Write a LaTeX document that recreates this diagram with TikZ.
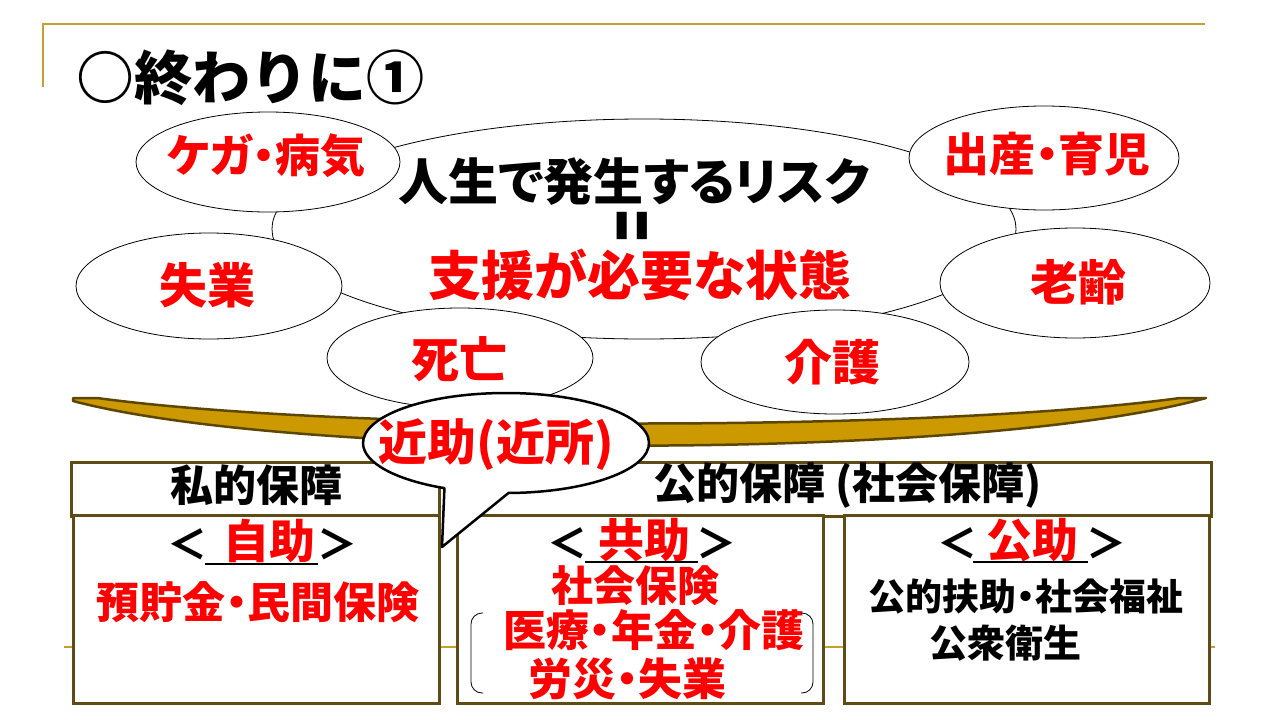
\documentclass[tikz,border=0pt]{standalone}
\usepackage{fontspec}
\setmainfont{Noto Sans CJK JP Black}[RawFeature=+palt]
\newfontfamily\titlefont{Noto Sans CJK JP Black}
\usetikzlibrary{shapes.geometric}
\definecolor{slidegold}{RGB}{196,160,52}
\definecolor{bowlfill}{RGB}{204,153,0}
\definecolor{bowledge}{RGB}{92,70,0}
\definecolor{boxedge}{RGB}{94,76,20}
\definecolor{jred}{RGB}{255,0,0}
\newcommand{\fs}[1]{\fontsize{#1}{#1}\selectfont}
\begin{document}
\begin{tikzpicture}[x=1pt,y=-1pt,
  risk/.style={ellipse, draw=black, line width=0.8pt, fill=white, inner sep=0pt},
  txt/.style={inner sep=0pt, text=black},
  rtxt/.style={inner sep=0pt, text=jred},
  panel/.style={draw=boxedge, line width=3pt, fill=white, inner sep=0pt, anchor=north west},
  uline/.style={draw=black, line width=2pt},
  bracketline/.style={draw=black, line width=0.8pt, rounded corners=11pt}]
\useasboundingbox (0,0) rectangle (1280,720);
% slide decoration
\coordinate (tl) at (43,24);
\coordinate (tr) at (1205,24);
\coordinate (tv) at (43,87);
\draw[slidegold, line width=2.5pt] (tv) -- (tl) -- (tr);
\coordinate (bl) at (64,647);
\coordinate (br) at (1215,647);
\draw[slidegold, line width=2pt] (bl) -- (br);
% title
\node[txt, anchor=west, font=\titlefont\fs{58}] (title) at (76,78) {○終わりに①};
% risk ellipses
\node[risk, minimum width=744, minimum height=220] (main) at (644,229) {};
\node[risk, minimum width=264, minimum height=100] (e1) at (268,162) {};
\node[risk, minimum width=270, minimum height=104] (e2) at (1044,158) {};
\node[risk, minimum width=266, minimum height=106] (e3) at (209,286) {};
\node[risk, minimum width=270, minimum height=110] (e4) at (1075,283) {};
\node[risk, minimum width=266, minimum height=100] (e5) at (460,358) {};
\node[risk, minimum width=268, minimum height=104] (e6) at (835,362) {};
\node[rtxt, font=\fs{45}] (t1) at (266,156) {ケガ・病気};
\node[rtxt, font=\fs{46}] (t2) at (1047,154) {出産・育児};
\node[rtxt, font=\fs{48}] (t3) at (207,285) {失業};
\node[rtxt, font=\fs{48}] (t4) at (1078,282) {老齢};
\node[rtxt, font=\fs{48}] (t5) at (459,359) {死亡};
\node[rtxt, font=\fs{48}] (t6) at (832,362) {介護};
\node[txt, font=\fs{50}] (m1) at (634,182) {人生で発生するリスク};
\node[txt, font=\fs{42}] (m2) at (641,226) {\rotatebox{90}{\scalebox{0.93}[2.0]{＝}}};
\node[rtxt, font=\fs{53}] (m3) at (640,275) {支援が必要な状態};
% bowl
\filldraw[fill=bowlfill, draw=bowledge, line width=2.5pt, line join=round]
  (73,398) -- (97,398) .. controls (350,432) and (930,432) .. (1180,398)
  -- (1206,398) .. controls (980,461) and (300,461) .. (73,401) -- cycle;
% header boxes
\node[panel, minimum width=368, minimum height=54] (privhead) at (70,461) {};
\node[panel, minimum width=755, minimum height=54] (pubhead) at (455,461) {};
\node[txt, font=\fs{43}] (privtxt) at (256,485) {私的保障};
\node[txt, font=\fs{43}] (pubtxt) at (848,486) {公的保障 (社会保障)};
% lower boxes
\node[panel, minimum width=366, minimum height=188] (selfbox) at (72,514) {};
\node[panel, minimum width=366, minimum height=188] (mutbox) at (456,514) {};
\node[panel, minimum width=365, minimum height=188] (pubbox) at (843,514) {};
% self help
\node[txt, font=\fs{40}] (a1) at (187,544) {＜};
\node[rtxt, font=\fs{46}] (a2) at (269,541) {自助};
\node[txt, font=\fs{40}] (a3) at (337,544) {＞};
\coordinate (a4) at (205,564);
\coordinate (a5) at (318,564);
\draw[uline] (a4) -- (a5);
\node[rtxt, font=\fs{43}] (a6) at (258,602) {預貯金・民間保険};
% mutual help
\node[txt, font=\fs{40}] (b1) at (567,543) {＜};
\node[rtxt, font=\fs{46}] (b2) at (644,540) {共助};
\node[txt, font=\fs{40}] (b3) at (716,543) {＞};
\coordinate (b4) at (585,562);
\coordinate (b5) at (698,562);
\draw[uline] (b4) -- (b5);
\node[rtxt, font=\fs{42}] (b6) at (635,586) {社会保険};
\node[rtxt, font=\fs{43}] (b7) at (654,630) {医療・年金・介護};
\node[rtxt, font=\fs{44}] (b8) at (627,679) {労災・失業};
\draw[bracketline] (483,613) -- (471,613) -- (471,693) -- (483,693);
\draw[bracketline] (801,613) -- (813,613) -- (813,693) -- (801,693);
% public help
\node[txt, font=\fs{40}] (c1) at (957,543) {＜};
\node[rtxt, font=\fs{46}] (c2) at (1032,540) {公助};
\node[txt, font=\fs{40}] (c3) at (1106,543) {＞};
\coordinate (c4) at (973,562);
\coordinate (c5) at (1088,562);
\draw[uline] (c4) -- (c5);
\node[txt, font=\fs{37}] (c6) at (1026,597) {公的扶助・社会福祉};
\node[txt, font=\fs{38}] (c7) at (1005,643) {公衆衛生};
% speech bubble
\coordinate (bc) at (506,443);
\coordinate (btip) at (442,547);
\filldraw[fill=white, draw=black, line width=2.5pt, line join=round]
  (bc) ++(89:143 and 50) arc[start angle=89, end angle=-244.5, x radius=143, y radius=50]
  -- (btip) -- cycle;
\node[rtxt, font=\fs{49}] (bub) at (496,445) {近助(近所)};
\end{tikzpicture}
\end{document}
